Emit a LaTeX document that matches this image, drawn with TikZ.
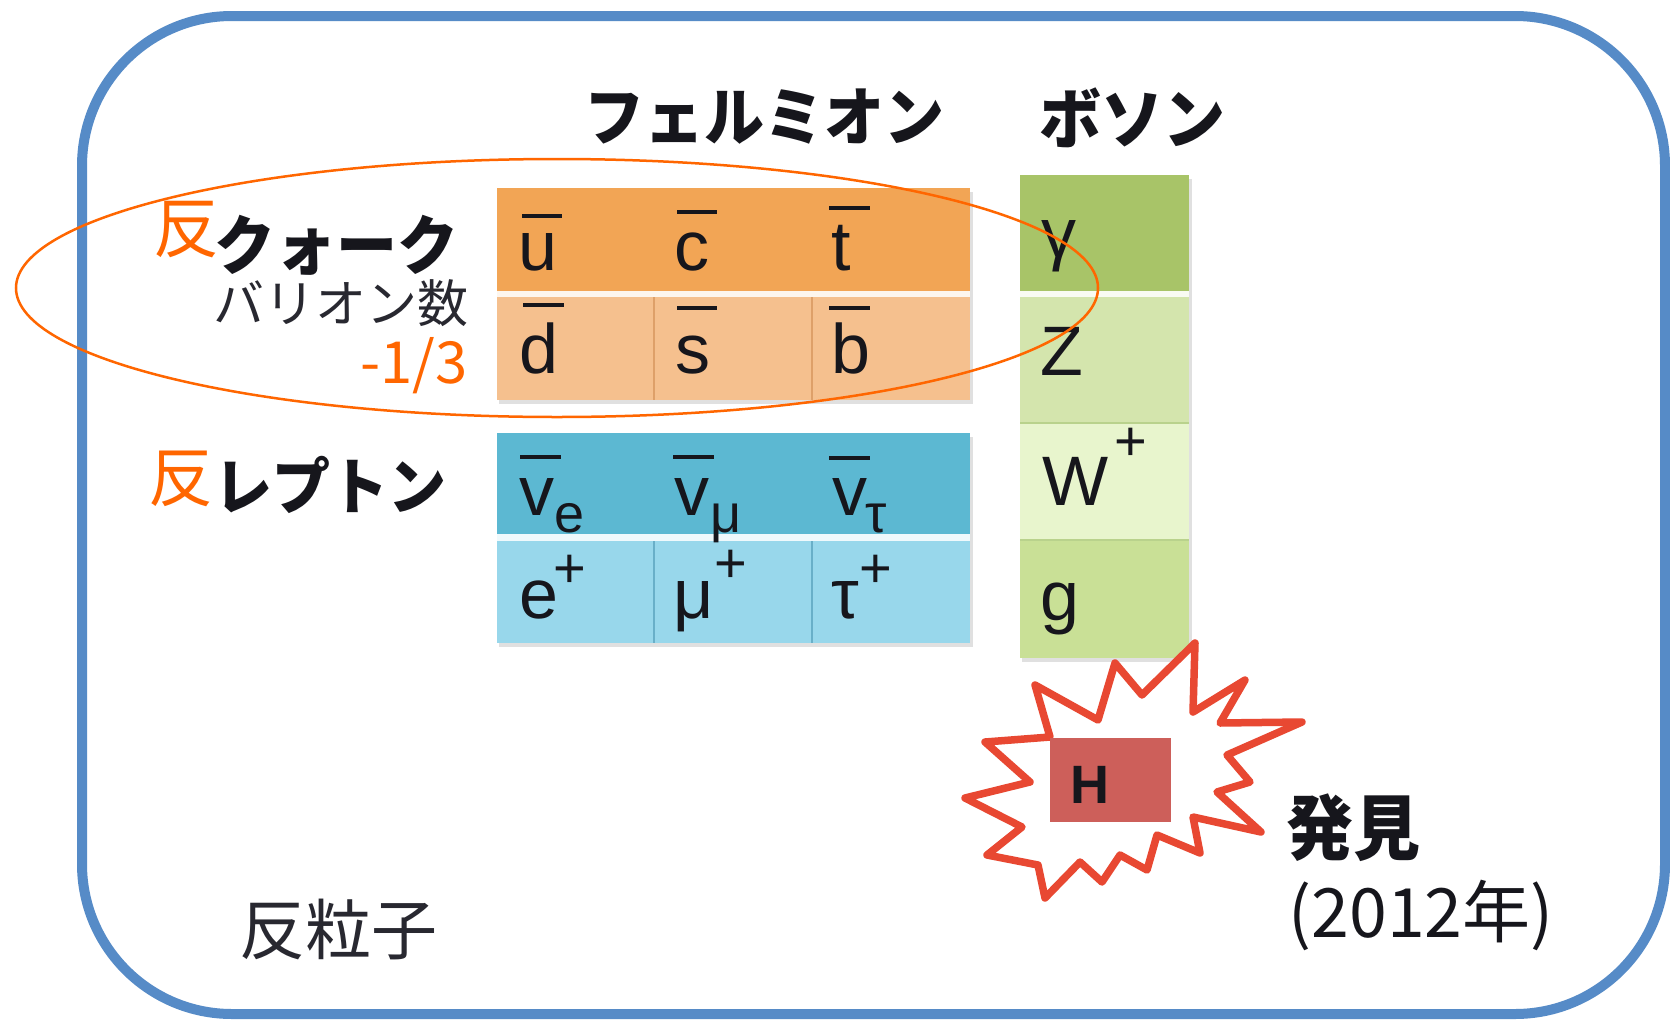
\documentclass[tikz,border=0pt]{standalone}
\usepackage{fontspec}
\usepackage{graphicx}
\setmainfont{Liberation Sans}
\newfontfamily\lat{Liberation Sans}
\newfontfamily\jp{Noto Sans CJK JP}
\definecolor{framec}{RGB}{86,139,199}
\definecolor{qtop}{RGB}{242,165,85}
\definecolor{qbot}{RGB}{245,192,142}
\definecolor{qdiv}{RGB}{222,160,105}
\definecolor{ltop}{RGB}{92,184,210}
\definecolor{lbot}{RGB}{152,215,235}
\definecolor{ldiv}{RGB}{105,175,200}
\definecolor{bgam}{RGB}{168,196,104}
\definecolor{bz}{RGB}{212,229,173}
\definecolor{bw}{RGB}{232,245,205}
\definecolor{bg}{RGB}{201,224,150}
\definecolor{bdiv}{RGB}{185,210,140}
\definecolor{hbox}{RGB}{205,95,90}
\definecolor{starc}{RGB}{232,72,50}
\definecolor{orng}{RGB}{255,102,0}
\definecolor{ink}{RGB}{22,22,28}
\definecolor{gray1}{RGB}{40,40,48}
\newcommand{\fs}[1]{\fontsize{#1}{#1}\selectfont}
\newcommand{\tall}[1]{\scalebox{1}[1.06]{#1}}
\tikzset{
  txt/.style={inner sep=0pt, outer sep=0pt, text=ink},
  lbl/.style={txt, anchor=base west, font=\lat\fs{70}},
  sub/.style={txt, anchor=base west, font=\lat\fs{54}},
  sup/.style={txt, anchor=center, font=\lat\fs{56}},
  ovl/.style={draw=ink, line width=4pt},
  shad/.style={fill=black, opacity=0.12},
}
\begin{document}
\begin{tikzpicture}[x=1pt,y=-1pt]
\useasboundingbox (0,0) rectangle (1670,1020);
\fill[white] (0,0) rectangle (1670,1020);
\draw[framec, line width=10pt, rounded corners=150pt] (82,16) rectangle (1665,1014);

% ---- quark table
\fill[shad] (499,192) rectangle (973,404);
\fill[qtop] (497,188) rectangle (970,291);
\fill[white!85!qbot] (497,291) rectangle (970,297);
\fill[qbot] (497,297) rectangle (970,400);
\draw[qdiv, line width=1.5pt] (654,297) -- (654,400) (812,297) -- (812,400);

% ---- lepton table
\fill[shad] (499,437) rectangle (973,647);
\fill[ltop] (497,433) rectangle (970,534);
\fill[white!85!lbot] (497,534) rectangle (970,541);
\fill[lbot] (497,541) rectangle (970,643);
\draw[ldiv, line width=1.5pt] (654,541) -- (654,643) (812,541) -- (812,643);

% ---- boson column
\fill[shad] (1022,179) rectangle (1192,662);
\fill[bgam] (1020,175) rectangle (1189,291);
\fill[white!85!bz] (1020,291) rectangle (1189,297);
\fill[bz] (1020,297) rectangle (1189,423);
\fill[bw] (1020,423) rectangle (1189,540);
\fill[bg] (1020,540) rectangle (1189,658);
\draw[bdiv, line width=2pt] (1020,423) -- (1189,423) (1020,540) -- (1189,540);

% ---- headings
\node[txt, font=\jp\bfseries\fs{60}] (ferm) at (764,117) {\tall{フェルミオン}};
\node[txt, font=\jp\bfseries\fs{62}] (boson) at (1132,118) {\tall{ボソン}};

% ---- left labels
\node[txt, text=orng, font=\jp\fs{66}] (han1) at (186,230) {反};
\node[txt, font=\jp\bfseries\fs{61}] (quark) at (336,245) {\tall{クォーク}};
\node[txt, text=gray1, font=\jp\fs{51}] (baryon) at (341,303) {バリオン数};
\node[txt, text=orng, font=\jp\fs{58}] (frac) at (414,366) {-1/3};
\node[txt, text=orng, font=\jp\fs{65}] (han2) at (181,479) {反};
\node[txt, font=\jp\bfseries\fs{58}] (lepton) at (330,485) {\tall{レプトン}};
\node[txt, text=gray1, font=\jp\fs{66}] (anti) at (338,930) {反粒子};

% ---- quark symbols
\node[lbl] (u) at (518,270) {u};
\node[lbl] (c) at (674,270) {c};
\node[lbl] (t) at (831,270) {t};
\node[lbl] (d) at (519,373) {d};
\node[lbl] (s) at (675,373) {s};
\node[lbl] (b) at (831,373) {b};
\draw[ovl] (522,216) -- (562,216);
\draw[ovl] (677,212) -- (717,212);
\draw[ovl] (829,208) -- (870,208);
\draw[ovl] (523,305) -- (564,305);
\draw[ovl] (677,308) -- (717,308);
\draw[ovl] (829,308) -- (870,308);

% ---- lepton symbols
\node[lbl] (ve) at (519,515) {v};
\node[sub] (ves) at (554,532) {e};
\node[lbl] (vm) at (674,515) {v};
\node[sub] (vms) at (710,532) {μ};
\node[lbl] (vt) at (832,515) {v};
\node[sub] (vts) at (865,532) {τ};
\draw[ovl] (520,457) -- (561,457);
\draw[ovl] (673,457) -- (714,457);
\draw[ovl] (829,458) -- (870,458);
\node[lbl] (ep) at (519,618) {e};
\node[sup] (eps) at (570,571) {+};
\node[lbl] (mp) at (673,618) {μ};
\node[sup] (mps) at (731,566) {+};
\node[lbl] (tp) at (831,618) {τ};
\node[sup] (tps) at (876,571) {+};

% ---- bosons
\node[lbl] (gam) at (1041,257) {γ};
\node[lbl] (Z) at (1040,375) {Z};
\node[lbl] (W) at (1042,505) {W};
\node[sup] (Wp) at (1131,444) {+};
\node[lbl] (g) at (1040,620) {g};

% ---- starburst + Higgs
\draw[starc, fill=white, line width=7.5pt, line join=round]
 (1195,643) -- (1193,712) -- (1245,680) -- (1220,723) -- (1302,722) -- (1227,755)
 -- (1250,782) -- (1217,792) -- (1261,832) -- (1193,817) -- (1200,853) -- (1157,835)
 -- (1147,870) -- (1120,855) -- (1102,882) -- (1080,862) -- (1045,898) -- (1038,865)
 -- (987,855) -- (1022,827) -- (965,798) -- (1030,782) -- (985,742) -- (1050,737)
 -- (1035,685) -- (1098,720) -- (1115,663) -- (1142,695) -- cycle;
\fill[white] (1050,822) rectangle (1171,828);
\fill[hbox] (1050,738) rectangle (1171,822);
\node[txt, font=\lat\bfseries\fs{54}] (H) at (1090,785) {H};

% ---- discovery text
\node[txt, font=\jp\bfseries\fs{67}] (disc) at (1353,828) {\tall{発見}};
\node[txt, font=\jp\fs{68}] (year) at (1421,915) {(2012年)};

% ---- ellipse
\draw[orng, line width=2.5pt] (557,288) ellipse [x radius=541, y radius=129];
\end{tikzpicture}
\end{document}
